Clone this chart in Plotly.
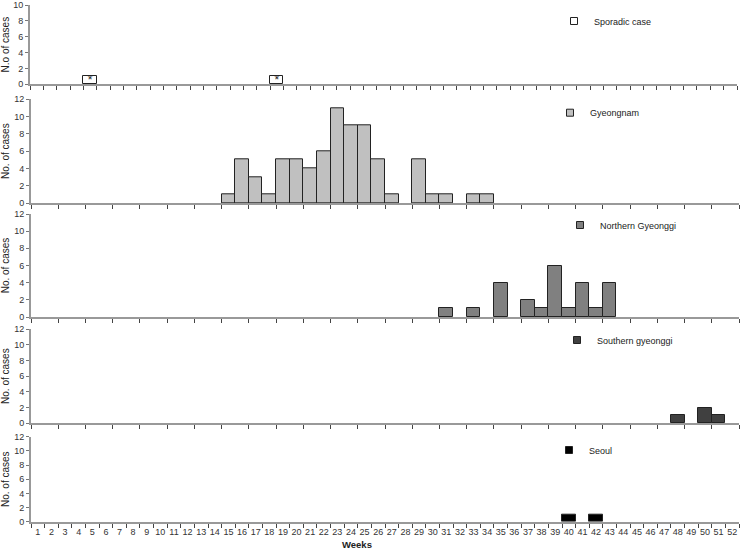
import plotly.graph_objects as go

# ---------------- data ----------------
weeks = list(range(1, 53))
week_labels = [str(w) for w in weeks]

sporadic_weeks = [5, 19]
sporadic_cases = [1, 1]
sporadic_marks = ["*", "*"]

gyeongnam_weeks = [15, 16, 17, 18, 19, 20, 21, 22, 23, 24, 25, 26, 27, 29, 30, 31, 33, 34]
gyeongnam_cases = [1, 5, 3, 1, 5, 5, 4, 6, 11, 9, 9, 5, 1, 5, 1, 1, 1, 1]

northern_weeks = [31, 33, 35, 37, 38, 39, 40, 41, 42, 43]
northern_cases = [1, 1, 4, 2, 1, 6, 1, 4, 1, 4]

southern_weeks = [48, 50, 51]
southern_cases = [1, 2, 1]

seoul_weeks = [40, 42]
seoul_cases = [1, 1]

panels = [
    ("Sporadic case", sporadic_weeks, sporadic_cases, "#ffffff", "N.o of cases", 10),
    ("Gyeongnam", gyeongnam_weeks, gyeongnam_cases, "#c0c0c0", "No. of cases", 12),
    ("Northern Gyeonggi", northern_weeks, northern_cases, "#808080", "No. of cases", 12),
    ("Southern gyeonggi", southern_weeks, southern_cases, "#404040", "No. of cases", 12),
    ("Seoul", seoul_weeks, seoul_cases, "#000000", "No. of cases", 12),
]

# ---------------- layout geometry (pixels) ----------------
W, H = 740, 550
def py(p):
    return (H - p) / H

x_dom_top = [30 / W, 737 / W]
x_dom = [31 / W, 739 / W]
y_doms = [
    [py(84.3), py(5)],
    [py(203), py(99.3)],
    [py(317), py(214)],
    [py(423.3), py(329)],
    [py(521.7), py(436.7)],
]
legend_pos = [(554, 21), (550, 112.7), (560, 225), (557, 340), (549, 450)]

TICKFONT = dict(family="Liberation Sans Narrow, Arial Narrow, Liberation Sans, Arial", size=9, color="#333333")
TEXTFONT = dict(family="Liberation Sans, Arial, sans-serif", size=9, color="#222222")

fig = go.Figure()
layout = dict(
    width=W, height=H,
    margin=dict(l=0, r=0, t=0, b=0),
    paper_bgcolor="white", plot_bgcolor="white",
    bargap=0,
    showlegend=True,
    font=TEXTFONT,
)

for i, (name, wk, cs, color, ytitle, ymax) in enumerate(panels):
    n = i + 1
    xa = "x" if n == 1 else f"x{n}"
    ya = "y" if n == 1 else f"y{n}"
    lg = "legend" if n == 1 else f"legend{n}"
    xvals = wk if n == 1 else [str(w) for w in wk]
    fig.add_trace(go.Bar(
        x=xvals, y=cs, name=name, width=1,
        marker=dict(color=color, line=dict(color="#222222", width=1)),
        xaxis=xa, yaxis=ya, showlegend=False,
    ))
    # legend entry (small square key, as in the original)
    fig.add_trace(go.Scatter(
        x=[None], y=[None], name=name, mode="markers",
        marker=dict(symbol="square", size=7, color=color, line=dict(color="#222222", width=1)),
        xaxis=xa, yaxis=ya, legend=lg, showlegend=True, hoverinfo="skip",
    ))
    if n == 1:
        fig.add_trace(go.Scatter(
            x=wk, y=[c * 0.4 for c in cs], text=sporadic_marks, mode="text",
            textfont=dict(family="Liberation Sans, Arial", size=12, color="#222222"),
            textposition="middle center",
            xaxis=xa, yaxis=ya, showlegend=False, hoverinfo="skip",
        ))

    xkey = "xaxis" if n == 1 else f"xaxis{n}"
    ykey = "yaxis" if n == 1 else f"yaxis{n}"
    if n == 1:
        layout[xkey] = dict(
            domain=x_dom_top, anchor=ya, type="linear", range=[0.5, 53.5],
            tickmode="array", tickvals=[k + 0.5 for k in range(0, 54)],
            showticklabels=False, ticks="outside", ticklen=4, tickcolor="#444444",
            showline=True, linecolor="#999999", linewidth=2, showgrid=False, zeroline=False,
        )
    else:
        layout[xkey] = dict(
            domain=x_dom, anchor=ya, type="category",
            categoryorder="array", categoryarray=week_labels, range=[-0.5, 51.5],
            tickson="boundaries", ticks="outside", ticklen=4, tickcolor="#444444",
            showticklabels=(n == 5), tickfont=TICKFONT, tickangle=0,
            showline=True, linecolor="#999999", linewidth=2, showgrid=False, zeroline=False,
        )
    layout[ykey] = dict(
        domain=y_doms[i], anchor=xa, range=[0, ymax],
        tickmode="array", tickvals=list(range(0, ymax + 1, 2)),
        ticktext=[str(v) for v in range(0, ymax + 1, 2)],
        ticks="outside", ticklen=3, tickcolor="#777777", tickfont=TICKFONT,
        ticklabeloverflow="allow",
        showline=True, linecolor="#999999", linewidth=2, showgrid=False, zeroline=False,
        title=dict(text=ytitle, font=dict(family="Liberation Sans, Arial", size=10, color="#222222"), standoff=3),
        automargin=False,
    )
    lx, lyp = legend_pos[i]
    layout[lg] = dict(
        x=lx / W, y=py(lyp), xanchor="left", yanchor="middle",
        bgcolor="rgba(0,0,0,0)", borderwidth=0, font=TEXTFONT,
        itemclick=False, itemdoubleclick=False,
    )

layout["annotations"] = [dict(
    text="<b>Weeks</b>", x=357 / W, y=py(544), xref="paper", yref="paper",
    showarrow=False, font=dict(family="Liberation Sans, Arial", size=9.5, color="#222222"),
    xanchor="center", yanchor="middle",
)]

fig.update_layout(**layout)
fig.write_html(
    "out.html",
    config={"displayModeBar": False},
    post_script="document.body.style.margin='0';document.body.style.overflow='hidden';",
)
